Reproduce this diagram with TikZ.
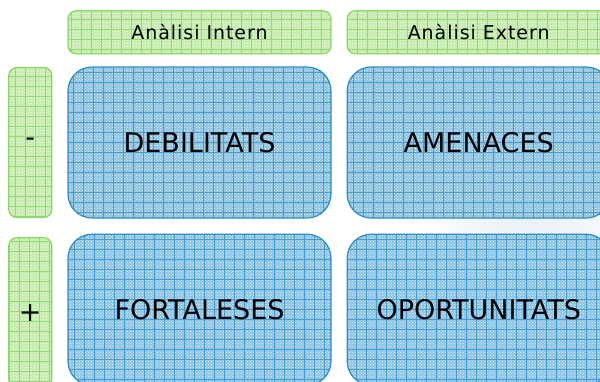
\documentclass[tikz,border=0pt]{standalone}
\usepackage{fontspec}
\setmainfont{DejaVu Sans}
\usetikzlibrary{positioning,patterns}
\definecolor{blaufons}{RGB}{140,196,226}
\definecolor{blaureixa}{RGB}{70,155,208}
\definecolor{blauvora}{RGB}{45,140,198}
\definecolor{verdfons}{RGB}{196,236,172}
\definecolor{verdreixa}{RGB}{150,218,118}
\definecolor{verdvora}{RGB}{140,215,100}
\definecolor{brillant}{RGB}{222,232,240}

\begin{document}
\begin{tikzpicture}[x=1pt,y=-1pt,node distance=15pt,
    quadre/.style={rectangle,rounded corners=24pt,draw=blauvora,fill=blaufons,
      line width=1.2pt,minimum width=263pt,minimum height=151pt,
      font=\fontsize{27}{30}\selectfont,
      path picture={\fill[pattern=crosshatch dots,pattern color=white!85!blaufons]
        (path picture bounding box.south west) rectangle
        (path picture bounding box.north east);
        \draw[blaureixa,line width=.7pt]
        (path picture bounding box.south west) grid[step=10pt]
        (path picture bounding box.north east);}},
    capcal/.style={rectangle,rounded corners=8pt,draw=verdvora,fill=verdfons,
      line width=1.2pt,minimum width=263pt,minimum height=43pt,
      font=\fontsize{19}{22}\selectfont\addfontfeature{LetterSpace=5},
      path picture={\fill[pattern=crosshatch dots,pattern color=white!85!verdfons]
        (path picture bounding box.south west) rectangle
        (path picture bounding box.north east);
        \draw[verdreixa,line width=.7pt]
        (path picture bounding box.south west) grid[step=10pt]
        (path picture bounding box.north east);}},
    costat/.style={capcal,minimum width=43pt,minimum height=150pt,
      font=\fontsize{27}{30}\selectfont}]
  \useasboundingbox (0,0) rectangle (600,381);
  \clip (0,0) rectangle (600,381);
  % lluentor del fons
  \shade[inner color=brillant,outer color=white] (530,175) ellipse (120 and 115);
  \node[quadre] (debil) at (199.5,142.5) {DEBILITATS};
  \node[quadre] (amen) [right=of debil] {AMENACES};
  \node[quadre] (fort) [below=of debil] {FORTALESES};
  \node[quadre] (oport) [right=of fort] {OPORTUNITATS};
  \node[capcal] (intern) [above=12pt of debil] {Anàlisi Intern};
  \node[capcal] (extern) [above=12pt of amen] {Anàlisi Extern};
  \node[costat] (menys) [left=of debil] {-};
  \node[costat] (mes) [below=19pt of menys] {+};
\end{tikzpicture}
\end{document}
